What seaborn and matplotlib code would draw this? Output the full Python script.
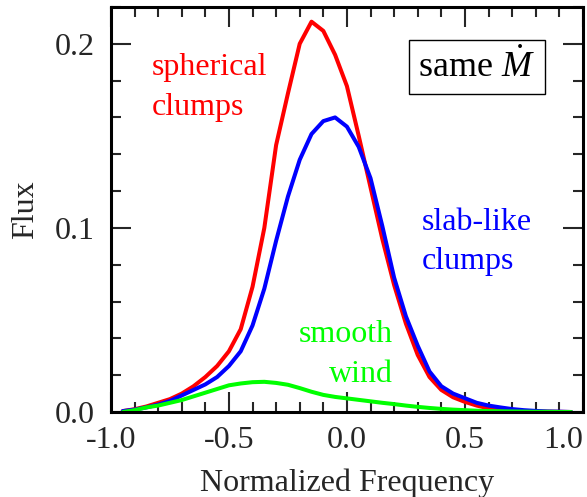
import matplotlib
matplotlib.use('Agg')
import matplotlib.pyplot as plt
import seaborn as sns
import pandas as pd
from matplotlib.ticker import MultipleLocator

# frequency grid shared by the three profiles
freq = [-0.95, -0.9, -0.85, -0.8, -0.75, -0.7, -0.65, -0.6, -0.55, -0.5,
        -0.45, -0.4, -0.35, -0.3, -0.25, -0.2, -0.15, -0.1, -0.05, 0.0,
        0.05, 0.1, 0.15, 0.2, 0.25, 0.3, 0.35, 0.4, 0.45, 0.5,
        0.55, 0.6, 0.65, 0.7, 0.75, 0.8, 0.85, 0.9, 0.95]

spherical = [0.0005, 0.0015, 0.003, 0.005, 0.007, 0.010, 0.014, 0.019, 0.025, 0.033,
             0.045, 0.068, 0.100, 0.145, 0.173, 0.200, 0.212, 0.207, 0.194, 0.177,
             0.150, 0.122, 0.094, 0.069, 0.048, 0.031, 0.019, 0.012, 0.008, 0.0055,
             0.0035, 0.002, 0.0013, 0.0008, 0.0005, 0.0003, 0.0002, 0.0001, 0.0]

slab = [0.0005, 0.0013, 0.0025, 0.004, 0.006, 0.009, 0.012, 0.015, 0.019, 0.025,
        0.033, 0.047, 0.067, 0.093, 0.117, 0.137, 0.151, 0.158, 0.160, 0.155,
        0.144, 0.127, 0.101, 0.073, 0.052, 0.036, 0.022, 0.014, 0.010, 0.0075,
        0.005, 0.0035, 0.0025, 0.0016, 0.001, 0.0006, 0.0003, 0.0002, 0.0]

smooth = [0.0, 0.001, 0.0025, 0.0035, 0.005, 0.0065, 0.0085, 0.0105, 0.0125, 0.0145,
          0.0155, 0.0162, 0.0164, 0.0158, 0.0148, 0.013, 0.011, 0.0093, 0.0082, 0.0074,
          0.0066, 0.0058, 0.0050, 0.0043, 0.0035, 0.0028, 0.0022, 0.0017, 0.0013, 0.0010,
          0.0007, 0.0005, 0.0004, 0.0003, 0.0002, 0.0001, 0.0001, 0.0, 0.0]

x_ticks = [-1.0, -0.5, 0.0, 0.5, 1.0]
x_ticklabels = ["-1.0", "-0.5", "0.0", "0.5", "1.0"]
y_ticks = [0.0, 0.1, 0.2]
y_ticklabels = ["0.0", "0.1", "0.2"]

sns.set_style("ticks")
plt.rcParams['font.family'] = ['Liberation Serif', 'DejaVu Serif']
plt.rcParams['mathtext.fontset'] = 'custom'
plt.rcParams['mathtext.rm'] = 'Liberation Serif'
plt.rcParams['mathtext.it'] = 'Liberation Serif:italic'
plt.rcParams['axes.unicode_minus'] = False

df = pd.DataFrame({"freq": freq, "spherical": spherical, "slab": slab, "smooth": smooth})

fig = plt.figure(figsize=(5.87, 4.97), dpi=100)
ax = fig.add_axes([0.189, 0.171, 0.804, 0.815])

sns.lineplot(data=df, x="freq", y="spherical", color="#ff0000", lw=2.9, ax=ax)
sns.lineplot(data=df, x="freq", y="slab", color="#0000ff", lw=2.9, ax=ax)
sns.lineplot(data=df, x="freq", y="smooth", color="#00ff00", lw=2.9, ax=ax)

ax.set_xlim(-1.0, 1.0)
ax.set_ylim(0.0, 0.22)
ax.xaxis.set_minor_locator(MultipleLocator(0.1))
ax.yaxis.set_minor_locator(MultipleLocator(0.02))
ax.set_xticks(x_ticks)
ax.set_yticks(y_ticks)
ax.tick_params(which='both', direction='in', top=True, right=True, width=1.5,
               labelsize=23)
ax.tick_params(axis='x', pad=10)
ax.tick_params(axis='y', pad=12)
ax.tick_params(which='major', length=14.5)
ax.tick_params(which='minor', length=7.5)
xlabels = ax.set_xticklabels(x_ticklabels, fontsize=23)
ax.set_yticklabels(y_ticklabels, fontsize=23)
# keep the last label inside the figure
xlabels[-1].set_horizontalalignment('right')
for s in ax.spines.values():
    s.set_linewidth(2.2)
    s.set_color('black')

ax.set_xlabel("Normalized Frequency", fontsize=23, labelpad=10)
ax.set_ylabel("Flux", fontsize=23, labelpad=10)

fig.text(152 / 587, 1 - 68 / 497, "spherical", color="#ff0000", fontsize=23, va='center')
fig.text(152 / 587, 1 - 107 / 497, "clumps", color="#ff0000", fontsize=23, va='center')
fig.text(422 / 587, 1 - 222 / 497, "slab-like", color="#0000ff", fontsize=23, va='center')
fig.text(422 / 587, 1 - 262 / 497, "clumps", color="#0000ff", fontsize=23, va='center')
fig.text(393 / 587, 1 - 335 / 497, "smooth", color="#00ff00", fontsize=23, va='center', ha='right')
fig.text(393 / 587, 1 - 375 / 497, "wind", color="#00ff00", fontsize=23, va='center', ha='right')
fig.text(477 / 587, 1 - 67 / 497, r"same $\dot{M}$", color="black", fontsize=26,
         va='center', ha='center',
         bbox=dict(boxstyle='square,pad=0.25', fc='white', ec='black', lw=1.0))

plt.savefig("out.png", dpi=100)
